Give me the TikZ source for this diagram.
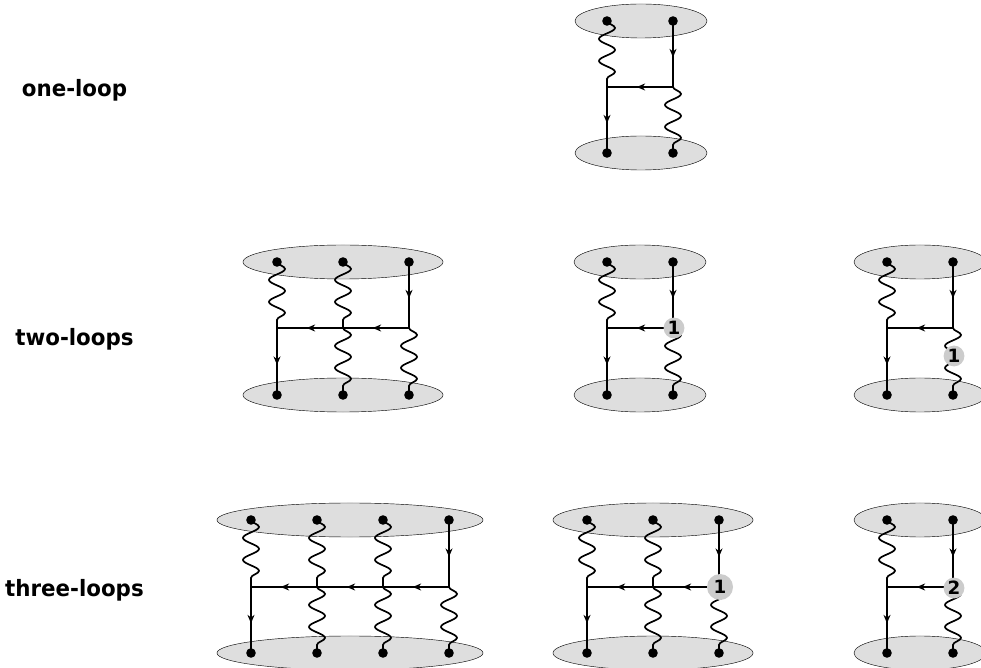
\documentclass[tikz,border=0pt]{standalone}
\usepackage{fontspec}
\setmainfont{DejaVu Sans}
\usetikzlibrary{shapes.geometric, arrows.meta, decorations.pathmorphing, decorations.markings}
\definecolor{blobgray}{HTML}{DEDEDE}
\definecolor{dressgray}{HTML}{CCCCCC}

\begin{document}
\begin{tikzpicture}[
    x=0.025cm, y=-0.025cm,
    every node/.style={font=\bfseries},
    looplabel/.style={font=\fontsize{16}{18}\selectfont\bfseries, inner sep=0pt, xscale=0.95},
    blob/.style={ellipse, draw, line width=0.3pt, fill=blobgray, minimum height=0.85cm, inner sep=0pt},
    blobtwo/.style={blob, minimum width=3.3cm},
    blobthree/.style={blob, minimum width=5cm},
    blobfour/.style={blob, minimum width=6.65cm},
    vtx/.style={circle, fill=black, inner sep=0pt, minimum size=0.24cm},
    dress/.style={circle, fill=dressgray, inner sep=0pt, minimum size=0.52cm, font=\fontsize{13}{15}\selectfont\bfseries},
    fermion/.style={line width=1.2pt, postaction={decorate}, decoration={markings,
                    mark=at position 0.55 with {\arrow{Stealth[length=6pt, width=5pt, inset=2pt]}}}},
    gluon/.style={line width=1.2pt, decorate, decoration={snake, segment length=0.55cm, amplitude=0.2cm,
                  pre length=0pt, post length=0pt}},
]
    \useasboundingbox (0,0) rectangle (981,668);

    % Labels
    \node[looplabel] (lab1) at (74.5,90) {one-loop};
    \node[looplabel] (lab2) at (74.5,339) {two-loops};
    \node[looplabel] (lab3) at (74.5,590) {three-loops};

    % one-loop
    \node[blobtwo] (aT) at (641,21) {};
    \node[blobtwo] (aB) at (641,153) {};
    \foreach \n/\x in {1/607,2/673} {
        \node[vtx] (aT\n) at (\x,21) {};
        \node[vtx] (aB\n) at (\x,153) {};
        \coordinate (aM\n) at (\x,87);
    }
    \draw[gluon] (aT1.center) -- (aM1);
    \draw[gluon] (aM2) -- (aB2.center);
    \draw[fermion] (aT2.center) -- (aM2);
    \draw[fermion] (aM2) -- (aM1);
    \draw[fermion] (aM1) -- (aB1.center);

    % two-loops, three legs
    \node[blobthree] (bT) at (343,262) {};
    \node[blobthree] (bB) at (343,395) {};
    \foreach \n/\x in {1/277,2/343,3/409} {
        \node[vtx] (bT\n) at (\x,262) {};
        \node[vtx] (bB\n) at (\x,395) {};
        \coordinate (bM\n) at (\x,328);
    }
    \draw[gluon] (bT1.center) -- (bM1);
    \draw[gluon] (bT2.center) -- (bM2);
    \draw[gluon] (bM2) -- (bB2.center);
    \draw[gluon] (bM3) -- (bB3.center);
    \draw[fermion] (bT3.center) -- (bM3);
    \draw[fermion] (bM3) -- (bM2);
    \draw[fermion] (bM2) -- (bM1);
    \draw[fermion] (bM1) -- (bB1.center);

    % two-loops, dressed vertex
    \node[blobtwo] (cT) at (640,262) {};
    \node[blobtwo] (cB) at (640,395) {};
    \foreach \n/\x in {1/607,2/673} {
        \node[vtx] (cT\n) at (\x,262) {};
        \node[vtx] (cB\n) at (\x,395) {};
        \coordinate (cM\n) at (\x,328);
    }
    \draw[gluon] (cT1.center) -- (cM1);
    \draw[gluon] (cM2) -- (cB2.center);
    \draw[fermion] (cT2.center) -- (cM2);
    \draw[fermion] (cM2) -- (cM1);
    \draw[fermion] (cM1) -- (cB1.center);
    \node[dress] (cD) at (674,328) {1};

    % two-loops, dressed gluon
    \node[blobtwo] (dT) at (920,262) {};
    \node[blobtwo] (dB) at (920,395) {};
    \foreach \n/\x in {1/887,2/953} {
        \node[vtx] (dT\n) at (\x,262) {};
        \node[vtx] (dB\n) at (\x,395) {};
        \coordinate (dM\n) at (\x,328);
    }
    \draw[gluon] (dT1.center) -- (dM1);
    \draw[gluon] (dM2) -- (dB2.center);
    \draw[fermion] (dT2.center) -- (dM2);
    \draw[fermion] (dM2) -- (dM1);
    \draw[fermion] (dM1) -- (dB1.center);
    \node[dress] (dD) at (954,356) {1};

    % three-loops, four legs
    \node[blobfour] (eT) at (350,520) {};
    \node[blobfour] (eB) at (350,653) {};
    \foreach \n/\x in {1/251,2/317,3/383,4/449} {
        \node[vtx] (eT\n) at (\x,520) {};
        \node[vtx] (eB\n) at (\x,653) {};
        \coordinate (eM\n) at (\x,587);
    }
    \draw[gluon] (eT1.center) -- (eM1);
    \foreach \n in {2,3} {
        \draw[gluon] (eT\n.center) -- (eM\n);
        \draw[gluon] (eM\n) -- (eB\n.center);
    }
    \draw[gluon] (eM4) -- (eB4.center);
    \draw[fermion] (eT4.center) -- (eM4);
    \draw[fermion] (eM4) -- (eM3);
    \draw[fermion] (eM3) -- (eM2);
    \draw[fermion] (eM2) -- (eM1);
    \draw[fermion] (eM1) -- (eB1.center);

    % three-loops, three legs
    \node[blobthree] (fT) at (653,520) {};
    \node[blobthree] (fB) at (653,653) {};
    \foreach \n/\x in {1/587,2/653,3/719} {
        \node[vtx] (fT\n) at (\x,520) {};
        \node[vtx] (fB\n) at (\x,653) {};
        \coordinate (fM\n) at (\x,587);
    }
    \draw[gluon] (fT1.center) -- (fM1);
    \draw[gluon] (fT2.center) -- (fM2);
    \draw[gluon] (fM2) -- (fB2.center);
    \draw[gluon] (fM3) -- (fB3.center);
    \draw[fermion] (fT3.center) -- (fM3);
    \draw[fermion] (fM3) -- (fM2);
    \draw[fermion] (fM2) -- (fM1);
    \draw[fermion] (fM1) -- (fB1.center);
    \node[dress, minimum size=0.65cm] (fD) at (720,587) {1};

    % three-loops, two legs
    \node[blobtwo] (gT) at (920,520) {};
    \node[blobtwo] (gB) at (920,653) {};
    \foreach \n/\x in {1/887,2/953} {
        \node[vtx] (gT\n) at (\x,520) {};
        \node[vtx] (gB\n) at (\x,653) {};
        \coordinate (gM\n) at (\x,587);
    }
    \draw[gluon] (gT1.center) -- (gM1);
    \draw[gluon] (gM2) -- (gB2.center);
    \draw[fermion] (gT2.center) -- (gM2);
    \draw[fermion] (gM2) -- (gM1);
    \draw[fermion] (gM1) -- (gB1.center);
    \node[dress] (gD) at (954,588) {2};
\end{tikzpicture}
\end{document}
